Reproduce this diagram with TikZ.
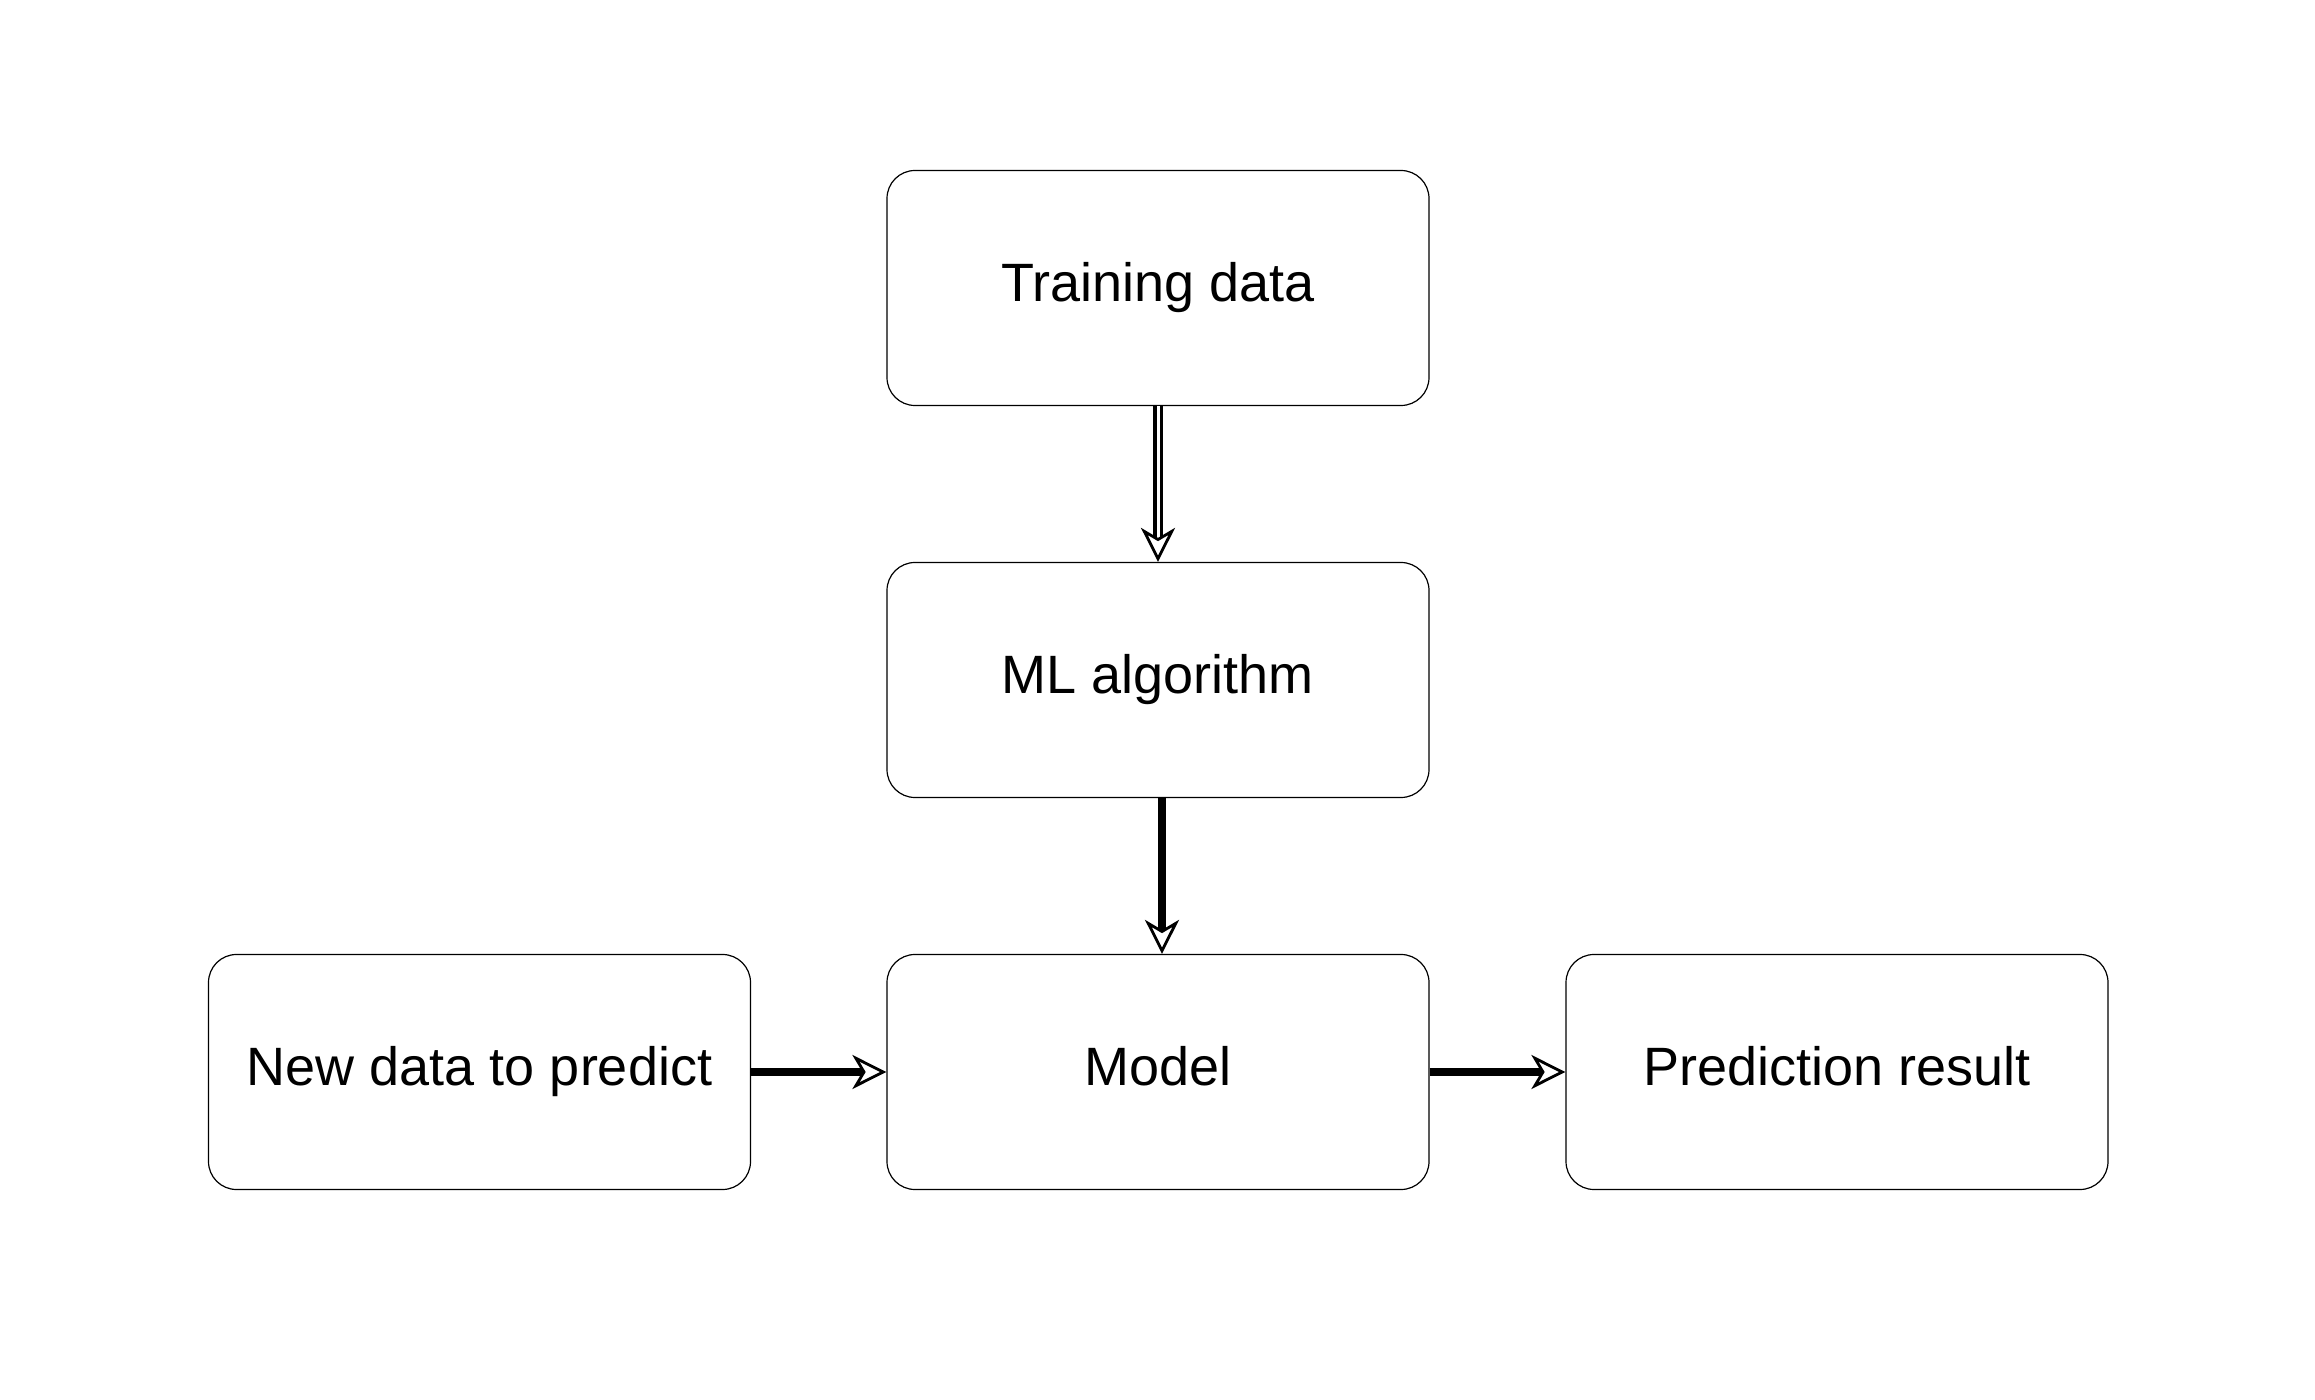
\documentclass[tikz,border=0pt]{standalone}
\usepackage{fontspec}
\setmainfont{Liberation Sans}
\usetikzlibrary{arrows.meta}
\begin{document}
\begin{tikzpicture}[x=0.5pt,y=-0.5pt,
  box/.style={draw=black, line width=0.6pt, rounded corners=14pt,
    minimum width=271pt, minimum height=117.5pt, inner sep=0pt,
    text height=19.7pt, text depth=5.7pt,
    font=\fontsize{27}{31}\selectfont, text=black},
  tip/.style={-{Stealth[fill=white,length=17pt,width=17pt,inset=5pt,line width=1.4pt]}},
  thick arrow/.style={tip, line width=4.2pt},
  dbl arrow/.style={tip, double, double distance=1.5pt, line width=1.8pt}]
\useasboundingbox (0,0) rectangle (2315,1400);
\node[box] (train) at (1158,288) {Training data};
\node[box] (ml) at (1158,680) {ML algorithm};
\node[box] (model) at (1158,1072) {Model};
\node[box] (new) at (479.5,1072) {New data to predict};
\node[box] (pred) at (1837,1072) {Prediction result};
\draw[dbl arrow] (train.south) -- (ml.north);
\draw[thick arrow] ([xshift=2pt]ml.south) -- ([xshift=2pt]model.north);
\draw[thick arrow] (new.east) -- (model.west);
\draw[thick arrow] (model.east) -- (pred.west);
\end{tikzpicture}
\end{document}
